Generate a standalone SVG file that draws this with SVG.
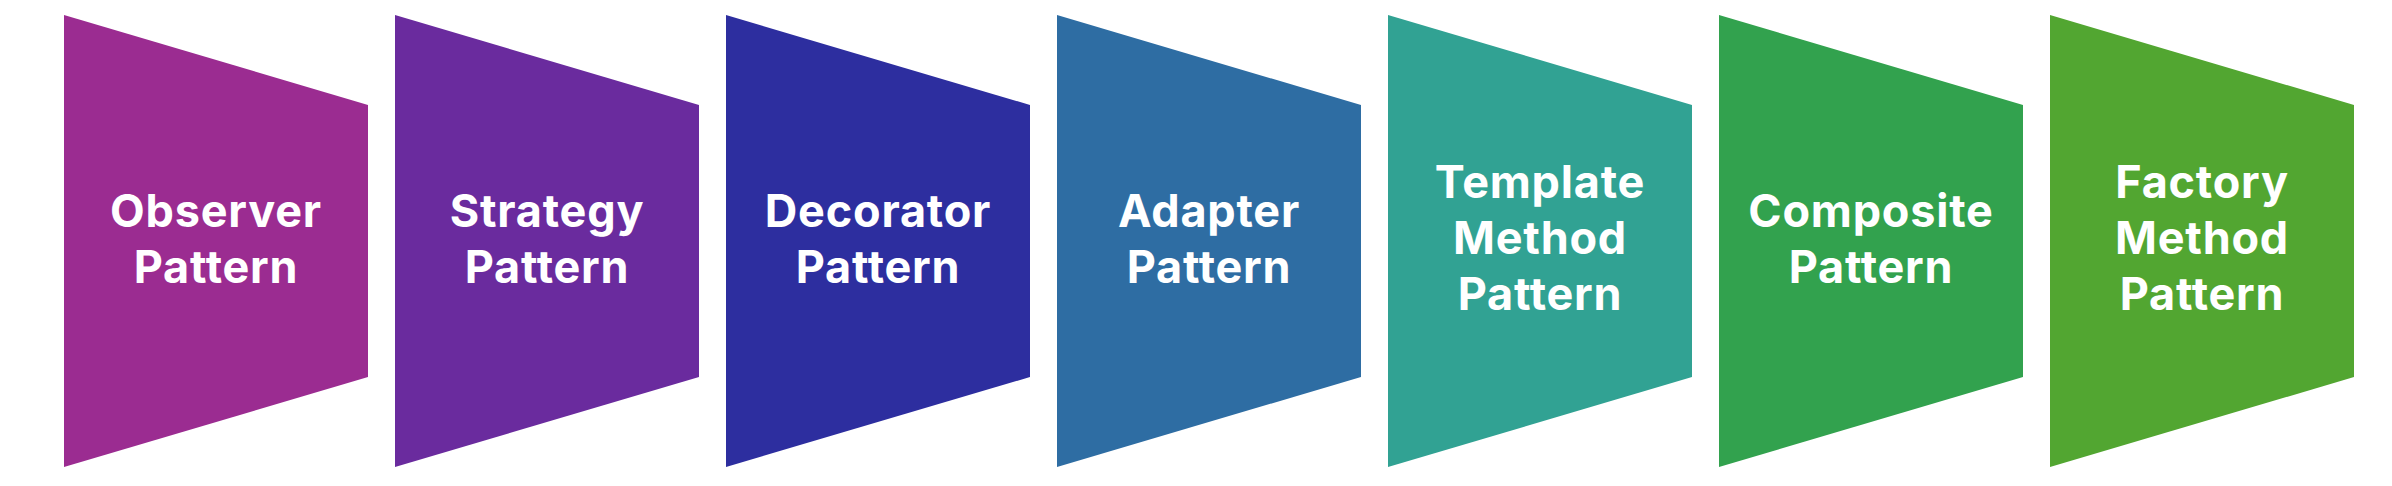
<svg xmlns="http://www.w3.org/2000/svg" width="2392" height="486" viewBox="0 0 2392 486">
<style>
.t{font-family:Inter,"Liberation Sans",sans-serif;font-weight:700;font-size:45px;letter-spacing:0.8px;fill:#fff;text-anchor:middle}
</style>
<rect width="2392" height="486" fill="#fff"/>
<g id="n1"><polygon points="64,15 368,105 368,377 64,467" fill="#9B2C91"/><text class="t" x="216" y="227">Observer</text><text class="t" x="216" y="283">Pattern</text></g>
<g id="n2"><polygon points="395,15 699,105 699,377 395,467" fill="#6A2B9E"/><text class="t" x="547" y="227">Strategy</text><text class="t" x="547" y="283">Pattern</text></g>
<g id="n3"><polygon points="726,15 1030,105 1030,377 726,467" fill="#2D2E9F"/><text class="t" x="878" y="227">Decorator</text><text class="t" x="878" y="283">Pattern</text></g>
<g id="n4"><polygon points="1057,15 1361,105 1361,377 1057,467" fill="#2E6DA3"/><text class="t" x="1209" y="227">Adapter</text><text class="t" x="1209" y="283">Pattern</text></g>
<g id="n5"><polygon points="1388,15 1692,105 1692,377 1388,467" fill="#31A293"/><text class="t" x="1540" y="198">Template</text><text class="t" x="1540" y="254">Method</text><text class="t" x="1540" y="310">Pattern</text></g>
<g id="n6"><polygon points="1719,15 2023,105 2023,377 1719,467" fill="#32A24E"/><text class="t" x="1871" y="227">Composite</text><text class="t" x="1871" y="283">Pattern</text></g>
<g id="n7"><polygon points="2050,15 2354,105 2354,377 2050,467" fill="#52A631"/><text class="t" x="2202" y="198">Factory</text><text class="t" x="2202" y="254">Method</text><text class="t" x="2202" y="310">Pattern</text></g>
<g id="connectors"></g>
</svg>
